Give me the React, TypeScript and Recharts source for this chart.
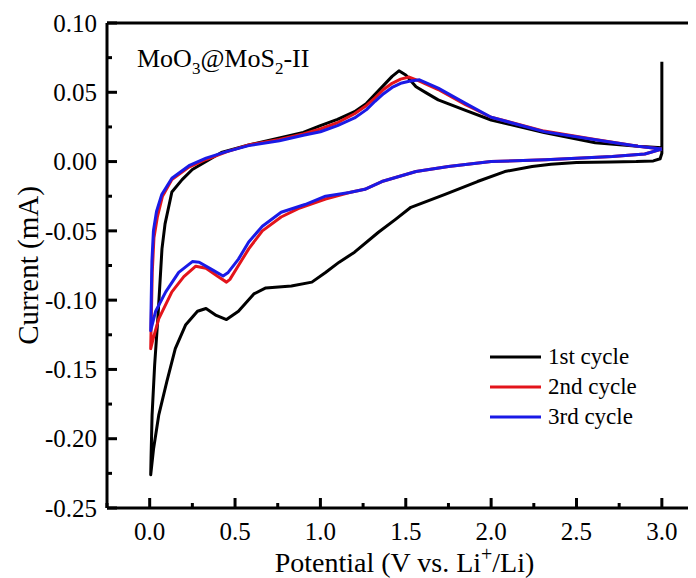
import React from "react";
import { LineChart, Line, XAxis, YAxis, Legend, ReferenceLine } from "recharts";

// cyclic voltammograms, [potential V, current mA], in sweep order
const cycle1: [number, number][] = [
  [3.0, 0.072], [3.0, 0.006], [2.99, 0.002], [2.95, 0.0005], [2.85, 0.0],
  [2.7, -0.0003], [2.5, -0.0007], [2.35, -0.002], [2.24, -0.0036], [2.08, -0.0072],
  [1.92, -0.0144], [1.73, -0.0237], [1.53, -0.033], [1.44, -0.0417], [1.34, -0.051],
  [1.2, -0.0654], [1.11, -0.0726], [1.03, -0.08], [0.95, -0.087], [0.83, -0.0898],
  [0.68, -0.0912], [0.61, -0.0955], [0.52, -0.108], [0.45, -0.114], [0.39, -0.111],
  [0.33, -0.106], [0.28, -0.108], [0.21, -0.118], [0.15, -0.135], [0.1, -0.159],
  [0.053, -0.183], [0.023, -0.207], [0.006, -0.226], [0.008, -0.214], [0.014, -0.183],
  [0.029, -0.147], [0.049, -0.111], [0.072, -0.063], [0.09, -0.045], [0.13, -0.022],
  [0.19, -0.013], [0.25, -0.0057], [0.33, 0.0], [0.42, 0.0065], [0.58, 0.012],
  [0.76, 0.017], [0.9, 0.021], [1.0, 0.026], [1.1, 0.0305], [1.2, 0.036],
  [1.27, 0.042], [1.32, 0.0485], [1.37, 0.055], [1.42, 0.0615], [1.46, 0.0655],
  [1.5, 0.0625], [1.56, 0.054], [1.62, 0.0496], [1.69, 0.0445], [1.85, 0.037],
  [2.0, 0.03], [2.31, 0.021], [2.61, 0.0136], [2.86, 0.011], [3.0, 0.01],
];

const cycle2: [number, number][] = [
  [3.0, 0.009], [2.9, 0.0055], [2.71, 0.0036], [2.32, 0.0014], [2.0, 0.0],
  [1.75, -0.0036], [1.56, -0.0072], [1.36, -0.0144], [1.26, -0.02], [1.17, -0.0223],
  [1.03, -0.027], [0.87, -0.034], [0.77, -0.04], [0.66, -0.05], [0.58, -0.063],
  [0.52, -0.075], [0.47, -0.085], [0.45, -0.087], [0.4, -0.083], [0.33, -0.077],
  [0.27, -0.0755], [0.2, -0.083], [0.13, -0.094], [0.053, -0.1135], [0.02, -0.128],
  [0.006, -0.135], [0.01, -0.11], [0.015, -0.08], [0.025, -0.055], [0.045, -0.04],
  [0.075, -0.025], [0.13, -0.013], [0.23, -0.004], [0.33, 0.0015], [0.45, 0.007],
  [0.58, 0.012], [0.76, 0.016], [0.9, 0.02], [1.0, 0.0235], [1.1, 0.028],
  [1.2, 0.0345], [1.27, 0.0405], [1.32, 0.046], [1.37, 0.052], [1.42, 0.0565],
  [1.47, 0.0595], [1.52, 0.061], [1.58, 0.058], [1.69, 0.052], [1.85, 0.041],
  [2.0, 0.032], [2.31, 0.022], [2.61, 0.016], [2.86, 0.011], [3.0, 0.009],
];

const cycle3: [number, number][] = [
  [3.0, 0.009], [2.9, 0.0055], [2.71, 0.0036], [2.32, 0.0014], [2.0, 0.0],
  [1.75, -0.0036], [1.56, -0.0072], [1.36, -0.0144], [1.26, -0.02], [1.17, -0.0223],
  [1.03, -0.025], [0.91, -0.031], [0.77, -0.0366], [0.66, -0.0467], [0.58, -0.058],
  [0.52, -0.0704], [0.46, -0.08], [0.43, -0.0826], [0.36, -0.0776], [0.29, -0.0726],
  [0.25, -0.0722], [0.17, -0.08], [0.094, -0.094], [0.035, -0.108], [0.006, -0.122],
  [0.009, -0.1], [0.013, -0.072], [0.022, -0.05], [0.04, -0.036], [0.07, -0.024],
  [0.13, -0.012], [0.23, -0.003], [0.33, 0.0025], [0.45, 0.0072], [0.58, 0.0115],
  [0.76, 0.015], [0.9, 0.019], [1.0, 0.0215], [1.1, 0.026], [1.2, 0.0315],
  [1.27, 0.0375], [1.32, 0.0435], [1.37, 0.049], [1.42, 0.0535], [1.47, 0.0565],
  [1.52, 0.058], [1.58, 0.059], [1.69, 0.053], [1.85, 0.042], [2.0, 0.032],
  [2.31, 0.0216], [2.61, 0.0158], [2.86, 0.011], [3.0, 0.009],
];

const seriesNames = ["1st cycle", "2nd cycle", "3rd cycle"];

const xMajor = [0, 0.5, 1.0, 1.5, 2.0, 2.5, 3.0];
const xMinor = [-0.25, 0.25, 0.75, 1.25, 1.75, 2.25, 2.75];
const yMajor = [-0.25, -0.2, -0.15, -0.1, -0.05, 0, 0.05, 0.1];
const yMinor = [-0.225, -0.175, -0.125, -0.075, -0.025, 0.025, 0.075];

const colors = ["#000000", "#e3141b", "#1a1ae6"];
const FONT = '"Liberation Serif", "Times New Roman", serif';

const toRows = (pts: [number, number][]) => pts.map(([v, i]) => ({ v, i }));
const allData = [toRows(cycle1), toRows(cycle2), toRows(cycle3)];

const isMajor = (val: number, majors: number[]) => majors.some((m) => Math.abs(m - val) < 1e-6);

function XTick(props: any) {
  const { x, y, payload } = props;
  const major = isMajor(payload.value, xMajor);
  return (
    <g>
      <line x1={x} x2={x} y1={y} y2={y - (major ? 10 : 5)} stroke="#000" strokeWidth={3} />
      {major && (
        <text x={x} y={y + 32} textAnchor="middle" fontFamily={FONT} fontSize={25} fill="#000">
          {payload.value.toFixed(1)}
        </text>
      )}
    </g>
  );
}

function YTick(props: any) {
  const { x, y, payload } = props;
  const major = isMajor(payload.value, yMajor);
  return (
    <g>
      <line x1={x} x2={x + (major ? 10 : 5)} y1={y} y2={y} stroke="#000" strokeWidth={3} />
      {major && (
        <text x={x - 10} y={y} dy="0.35em" textAnchor="end" fontFamily={FONT} fontSize={25} fill="#000">
          {payload.value.toFixed(2)}
        </text>
      )}
    </g>
  );
}

function YTitle(props: any) {
  const vb = props.viewBox ?? { x: 0, y: 15, width: 99, height: 485 };
  const cx = vb.x + 20;
  const cy = vb.y + vb.height / 2;
  return (
    <text x={cx} y={cy} transform={`rotate(-90 ${cx} ${cy})`} textAnchor="middle" dy="0.35em"
      fontFamily={FONT} fontSize={29} fill="#000">
      Current (mA)
    </text>
  );
}

function XTitle(props: any) {
  const vb = props.viewBox ?? { x: 99, y: 500, width: 589, height: 70 };
  const cx = vb.x + vb.width / 2 + 3;
  return (
    <text x={cx} y={vb.y + 64} textAnchor="middle" fontFamily={FONT} fontSize={28} fill="#000">
      Potential (V vs. Li
      <tspan dy={-11} fontSize={20}>+</tspan>
      <tspan dy={11}>/Li)</tspan>
    </text>
  );
}

function LegendBox() {
  return (
    <svg width={200} height={95} style={{ display: "block" }}>
      {seriesNames.map((name, k) => (
        <g key={name}>
          <line x1={0} x2={51} y1={15 + k * 30} y2={15 + k * 30} stroke={colors[k]} strokeWidth={3} />
          <text x={58} y={22 + k * 30} fontFamily={FONT} fontSize={23} fill="#000">{name}</text>
        </g>
      ))}
    </svg>
  );
}

export default function App() {
  return (
    <div style={{ position: "relative", width: 688, height: 570 }}>
      <LineChart width={688} height={570} margin={{ top: 15, right: 0, bottom: 0, left: 0 }}>
        <XAxis
          type="number"
          dataKey="v"
          domain={[-0.25, 3.2]}
          ticks={[...xMinor, ...xMajor].sort((a, b) => a - b)}
          interval={0}
          allowDataOverflow
          height={70}
          tickSize={0}
          tickMargin={0}
          tickLine={false}
          axisLine={{ stroke: "#000", strokeWidth: 3 }}
          tick={<XTick />}
          label={{ content: <XTitle /> }}
        />
        <YAxis
          type="number"
          dataKey="i"
          domain={[-0.25, 0.1]}
          ticks={[...yMinor, ...yMajor].sort((a, b) => a - b)}
          interval={0}
          allowDataOverflow
          width={99}
          tickSize={0}
          tickMargin={0}
          tickLine={false}
          axisLine={{ stroke: "#000", strokeWidth: 3 }}
          tick={<YTick />}
          label={{ content: <YTitle /> }}
        />
        <ReferenceLine y={0.1} stroke="#000" strokeWidth={3} />
        {allData.map((rows, k) => (
          <Line
            key={seriesNames[k]}
            data={rows}
            dataKey="i"
            name={seriesNames[k]}
            type="linear"
            stroke={colors[k]}
            strokeWidth={3}
            strokeLinejoin="round"
            dot={false}
            activeDot={false}
            isAnimationActive={false}
          />
        ))}
        <Legend
          layout="vertical"
          align="center"
          verticalAlign="middle"
          content={() => <LegendBox />}
          wrapperStyle={{ left: 482, top: 334, width: 200 }}
        />
      </LineChart>
      <svg width={688} height={100} style={{ position: "absolute", left: 0, top: 0, pointerEvents: "none" }}>
        <text x={129} y={59} fontFamily={FONT} fontSize={26} fill="#000">
          MoO<tspan dy={7} fontSize={17}>3</tspan>
          <tspan dy={-7}>@MoS</tspan>
          <tspan dy={7} fontSize={17}>2</tspan>
          <tspan dy={-7}>-II</tspan>
        </text>
      </svg>
    </div>
  );
}
